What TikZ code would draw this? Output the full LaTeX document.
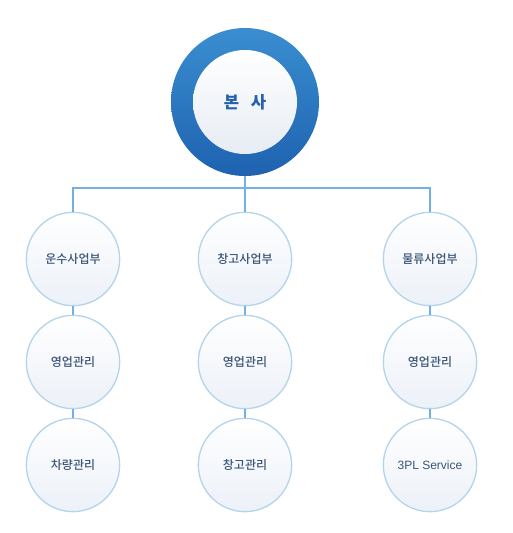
\documentclass[tikz,border=0pt]{standalone}
\usepackage{fontspec}
\newfontfamily\kr{Noto Sans CJK KR Medium}[Scale=1]
\usetikzlibrary{positioning}
\definecolor{ringtop}{HTML}{3A8ED0}
\definecolor{ringbot}{HTML}{1E62B0}
\definecolor{linkblue}{HTML}{72B0EA}
\definecolor{rimblue}{HTML}{B4D4EC}
\definecolor{unitbot}{HTML}{ECF1F8}
\definecolor{hqbot}{HTML}{E6ECF3}
\definecolor{textnavy}{HTML}{3A5576}
\definecolor{hqtext}{HTML}{2462AE}
\tikzset{
  unit/.style={circle,draw=rimblue,line width=1pt,minimum size=70pt,inner sep=0pt,
    top color=white,bottom color=unitbot,text=textnavy,font=\kr\fontsize{9pt}{11pt}\selectfont},
  link/.style={draw=linkblue,line width=0.8pt}
}
\begin{document}
\begin{tikzpicture}[x=0.75pt,y=-0.75pt]
\useasboundingbox (0,0) rectangle (512,533);
\node [circle,minimum size=111pt,inner sep=0pt,top color=ringtop,bottom color=ringbot] (ring) at (245,102) {};
\node [circle,minimum size=78pt,inner sep=0pt,top color=white,bottom color=hqbot,
  text=hqtext,font=\kr\bfseries\fontsize{12.5pt}{14pt}\selectfont] (hq) at (245,102) {본\hspace{0.7em}사};
\coordinate (bar) at (245,188);
\node [unit] (a1) at (73,259) {운수사업부};
\node [unit] (a2) at (73,362) {영업관리};
\node [unit] (a3) at (73,465) {차량관리};
\node [unit] (b1) at (245,259) {창고사업부};
\node [unit] (b2) at (245,362) {영업관리};
\node [unit] (b3) at (245,465) {창고관리};
\node [unit] (c1) at (430,259) {물류사업부};
\node [unit] (c2) at (430,362) {영업관리};
\node [unit,font=\fontspec{Liberation Sans}\fontsize{9pt}{11pt}\selectfont] (c3) at (430,465) {3PL Service};
\draw [link] (ring) -- (bar);
\draw [link] (a1) |- (bar) -| (c1);
\draw [link] (bar) -- (b1);
\draw [link] (a1) -- (a2) (a2) -- (a3);
\draw [link] (b1) -- (b2) (b2) -- (b3);
\draw [link] (c1) -- (c2) (c2) -- (c3);
\end{tikzpicture}
\end{document}
